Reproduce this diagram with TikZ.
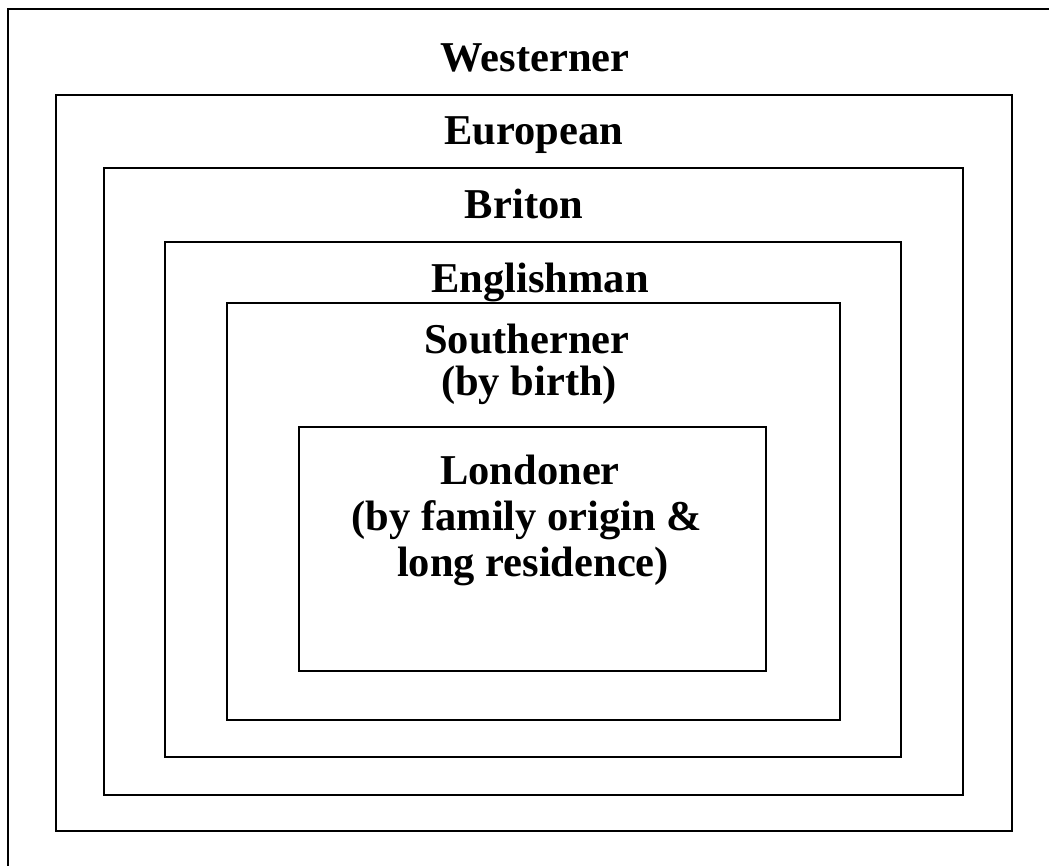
\documentclass[tikz,border=0pt]{standalone}
\usepackage{fontspec}
\setmainfont{Liberation Serif}
\begin{document}
\begin{tikzpicture}[x=1pt,y=-1pt,
  frame/.style={draw=black,line width=1.5pt},
  label/.style={anchor=base,inner sep=0pt,font=\fontsize{42.5}{46}\selectfont\bfseries}]
\useasboundingbox[fill=white] (0,0) rectangle (1049,865);
\draw[frame] (8,9) rectangle (1070,890);
\draw[frame] (56,95) rectangle (1012,831);
\draw[frame] (104,168) rectangle (963,795);
\draw[frame] (165,242) rectangle (901,757);
\draw[frame] (227,303) rectangle (840,720);
\draw[frame] (299,427) rectangle (766,671);
\node[label] (west) at (535,71) {Westerner};
\node[label] (euro) at (534,144) {European};
\node[label] (brit) at (524,218) {Briton};
\node[label] (eng) at (540,292) {Englishman};
\node[label] (south) at (527,353) {Southerner};
\node[label] (southb) at (529,395) {(by birth)};
\node[label] (lond) at (530,484) {Londoner};
\node[label] (londb) at (527,530) {(by family origin \&};
\node[label] (londc) at (533,576) {long residence)};
\end{tikzpicture}
\end{document}
